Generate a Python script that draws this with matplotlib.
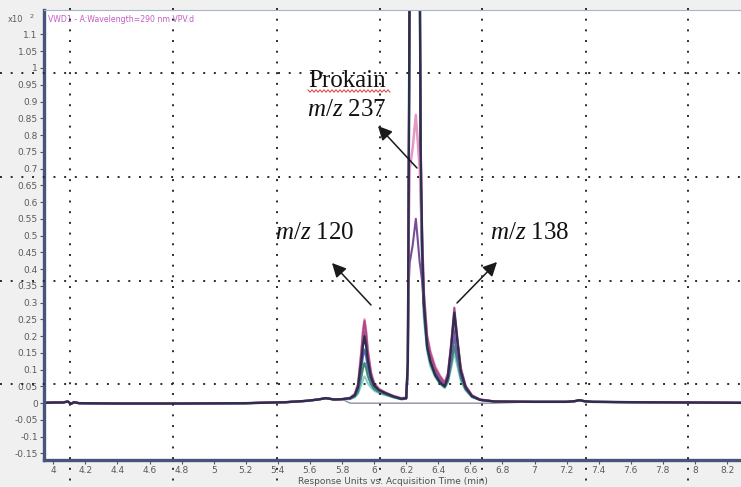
import numpy as np
import matplotlib
matplotlib.use('Agg')
import matplotlib.pyplot as plt
import matplotlib.patches as mpatches
from matplotlib.lines import Line2D
from matplotlib.ticker import FixedLocator, FuncFormatter

# ---------------- data ----------------
TIME = [3.94, 4.00, 4.06, 4.09, 4.11, 4.13, 4.16, 4.40, 4.80, 5.20, 5.45, 5.58, 5.65, 5.70, 5.75, 5.80,
        5.85, 5.88, 5.90, 5.92, 5.93, 5.94, 5.95, 5.96, 5.98, 6.00, 6.03, 6.07, 6.12, 6.17, 6.20,
        6.21, 6.215, 6.222, 6.24, 6.26, 6.275, 6.284, 6.29, 6.30, 6.31, 6.33, 6.35, 6.38, 6.41,
        6.44, 6.46, 6.48, 6.50, 6.52, 6.54, 6.57, 6.61, 6.66, 6.75,
        7.00, 7.20, 7.25, 7.28, 7.31, 7.36, 7.60, 8.00, 8.30]

BASE_A = [0.001, 0.002, 0.002, 0.005, -0.002, 0.003, 0.000, -0.001, -0.001, 0.000, 0.003, 0.007, 0.011, 0.015, 0.011, 0.012]
BASE_E = [0.004, 0.004, 0.006, 0.009, 0.006, 0.004, 0.003, 0.002, 0.001]

NAVY_B = [0.015, 0.024, 0.050, 0.125, 0.170, 0.200, 0.172, 0.130, 0.078, 0.053, 0.039, 0.030, 0.020, 0.013, 0.015]
NAVY_C = [0.12, 0.60, 1.40, 2.50, 3.00, 2.50, 1.40, 0.75, 0.45, 0.30, 0.17, 0.125, 0.085, 0.062]
NAVY_D = [0.050, 0.078, 0.165, 0.270, 0.180, 0.095, 0.047, 0.021, 0.010, 0.005]

MAGENTA_B = [0.015, 0.027, 0.056, 0.150, 0.208, 0.245, 0.210, 0.158, 0.090, 0.058, 0.041, 0.031, 0.021, 0.014, 0.016]
MAGENTA_C = [0.12, 0.60, 1.40, 2.40, 2.90, 2.40, 1.40, 0.80, 0.50, 0.33, 0.20, 0.150, 0.105, 0.080]
MAGENTA_D = [0.060, 0.088, 0.178, 0.285, 0.190, 0.105, 0.052, 0.023, 0.011, 0.005]

PINK_B = [0.016, 0.028, 0.058, 0.153, 0.212, 0.250, 0.214, 0.161, 0.092, 0.060, 0.043, 0.032, 0.022, 0.015, 0.017]
PINK_C = [0.12, 0.50, 0.70, 0.76, 0.86, 0.76, 0.70, 0.62, 0.48, 0.33, 0.20, 0.155, 0.110, 0.082]
PINK_D = [0.062, 0.088, 0.165, 0.260, 0.178, 0.104, 0.052, 0.023, 0.011, 0.005]

PURPLE_B = [0.015, 0.026, 0.052, 0.135, 0.186, 0.220, 0.188, 0.142, 0.082, 0.055, 0.040, 0.030, 0.020, 0.013, 0.015]
PURPLE_C = [0.11, 0.35, 0.42, 0.47, 0.55, 0.47, 0.42, 0.40, 0.36, 0.29, 0.19, 0.145, 0.100, 0.075]
PURPLE_D = [0.058, 0.082, 0.150, 0.230, 0.160, 0.094, 0.048, 0.021, 0.010, 0.005]

BLUE_B = [0.014, 0.023, 0.043, 0.102, 0.137, 0.160, 0.139, 0.106, 0.068, 0.049, 0.038, 0.029, 0.020, 0.013, 0.015]
BLUE_C = [0.12, 0.60, 1.35, 2.20, 2.60, 2.20, 1.35, 0.70, 0.42, 0.29, 0.18, 0.130, 0.090, 0.068]
BLUE_D = [0.052, 0.072, 0.130, 0.200, 0.140, 0.083, 0.044, 0.020, 0.010, 0.005]

YELLOW_B = [0.013, 0.020, 0.034, 0.080, 0.102, 0.118, 0.104, 0.083, 0.058, 0.043, 0.034, 0.027, 0.019, 0.012, 0.014]
YELLOW_C = [0.10, 0.45, 1.25, 2.30, 2.80, 2.30, 1.25, 0.66, 0.42, 0.30, 0.185, 0.135, 0.095, 0.070]
YELLOW_D = [0.050, 0.068, 0.118, 0.180, 0.126, 0.076, 0.042, 0.020, 0.010, 0.005]

TEAL_B = [0.013, 0.020, 0.034, 0.077, 0.103, 0.120, 0.105, 0.082, 0.057, 0.042, 0.033, 0.026, 0.018, 0.012, 0.014]
TEAL_C = [0.10, 0.55, 1.30, 2.00, 2.30, 2.00, 1.30, 0.65, 0.40, 0.27, 0.165, 0.120, 0.082, 0.060]
TEAL_D = [0.048, 0.066, 0.115, 0.170, 0.124, 0.074, 0.041, 0.019, 0.010, 0.005]

CYAN_B = [0.012, 0.018, 0.028, 0.055, 0.069, 0.080, 0.072, 0.060, 0.047, 0.037, 0.030, 0.024, 0.017, 0.011, 0.013]
CYAN_C = [0.09, 0.50, 1.25, 1.80, 2.00, 1.80, 1.25, 0.60, 0.38, 0.25, 0.155, 0.110, 0.078, 0.057]
CYAN_D = [0.045, 0.061, 0.104, 0.150, 0.108, 0.067, 0.038, 0.018, 0.009, 0.004]

BLANK_MID = [0.0] * 39

X_TICKS = [4, 4.2, 4.4, 4.6, 4.8, 5, 5.2, 5.4, 5.6, 5.8, 6, 6.2, 6.4, 6.6, 6.8, 7, 7.2, 7.4, 7.6, 7.8, 8, 8.2]
Y_TICKS = [-0.15, -0.1, -0.05, 0, 0.05, 0.1, 0.15, 0.2, 0.25, 0.3, 0.35, 0.4, 0.45, 0.5, 0.55, 0.6,
           0.65, 0.7, 0.75, 0.8, 0.85, 0.9, 0.95, 1, 1.05, 1.1]

TITLE = 'VWD1 - A:Wavelength=290 nm VPV.d'
XLABEL = 'Response Units vs. Acquisition Time (min)'

traces = [
    ('#8e8e9e', 1.0, BASE_A + BLANK_MID + BASE_E),
    ('#e8dc98', 1.5, BASE_A + YELLOW_B + YELLOW_C + YELLOW_D + BASE_E),
    ('#8ccfd0', 1.5, BASE_A + CYAN_B + CYAN_C + CYAN_D + BASE_E),
    ('#3f8f6f', 1.5, BASE_A + TEAL_B + TEAL_C + TEAL_D + BASE_E),
    ('#5b6bb5', 1.5, BASE_A + BLUE_B + BLUE_C + BLUE_D + BASE_E),
    ('#7b4b9b', 1.5, BASE_A + PURPLE_B + PURPLE_C + PURPLE_D + BASE_E),
    ('#e896c2', 1.8, BASE_A + PINK_B + PINK_C + PINK_D + BASE_E),
    ('#b04a86', 1.5, BASE_A + MAGENTA_B + MAGENTA_C + MAGENTA_D + BASE_E),
    ('#2c2f4f', 1.7, BASE_A + NAVY_B + NAVY_C + NAVY_D + BASE_E),
]

# ---------------- figure ----------------
plt.rcParams['mathtext.fontset'] = 'custom'
plt.rcParams['mathtext.rm'] = 'Liberation Serif'
plt.rcParams['mathtext.it'] = 'Liberation Serif:italic'

W, H = 741, 487
fig = plt.figure(figsize=(W / 100, H / 100), dpi=100, facecolor='#f0f0f0')


def fx(px):
    return px / W


def fy(py):
    return 1 - py / H


ax = fig.add_axes([fx(44), fy(459.5), fx(741) - fx(44), fy(10) - fy(459.5)])
ax.set_facecolor('white')

for color, lw, vals in traces:
    ax.plot(TIME, vals, color=color, lw=lw, solid_joinstyle='round')

ax.set_xlim(3.942, 8.287)
ax.set_ylim(-0.168, 1.173)

ax.xaxis.set_major_locator(FixedLocator(X_TICKS))
ax.yaxis.set_major_locator(FixedLocator(Y_TICKS))


def fmt(v, pos):
    v = round(v, 2)
    if abs(v) < 1e-9:
        return '0'
    return f'{v:g}'


ax.xaxis.set_major_formatter(FuncFormatter(fmt))
ax.yaxis.set_major_formatter(FuncFormatter(fmt))

axis_col = '#47557a'
for side in ['left', 'bottom']:
    ax.spines[side].set_color(axis_col)
    ax.spines[side].set_linewidth(2.4)
ax.spines['top'].set_color('#a8b4c8')
ax.spines['top'].set_linewidth(0.8)
ax.spines['right'].set_visible(False)

ax.tick_params(direction='out', length=3, width=0.8, color=axis_col,
               labelsize=6.5, labelcolor='#5a5a5a', pad=1.5)
ax.set_xlabel(XLABEL, fontsize=6.5, color='#505050', labelpad=1.5)

# title and multiplier
fig.text(fx(48), fy(19), TITLE, fontsize=5.6, color='#c45cc4', va='center', ha='left')
fig.text(fx(8), fy(19), 'x10', fontsize=6, color='#5a5a5a', va='center', ha='left')
fig.text(fx(30), fy(16), '2', fontsize=4.5, color='#5a5a5a', va='center', ha='left')

# annotations
serif = 'Liberation Serif'
fig.text(fx(308), fy(87), 'Prokain', fontsize=18, family=serif, color='#111111', va='baseline', ha='left')
fig.text(fx(307), fy(116), r'$\mathit{m/z}$ 237', fontsize=18, family=serif, color='#111111', va='baseline', ha='left')
fig.text(fx(275), fy(239), r'$\mathit{m/z}$ 120', fontsize=18, family=serif, color='#111111', va='baseline', ha='left')
fig.text(fx(490), fy(239), r'$\mathit{m/z}$ 138', fontsize=18, family=serif, color='#111111', va='baseline', ha='left')

# red spell-check squiggle under "Prokain"
sq_x = np.arange(308, 390.1, 2.0)
sq_y = 91 + np.where(np.arange(len(sq_x)) % 2 == 0, -1.2, 1.2)
fig.add_artist(Line2D(fx(sq_x), fy(sq_y), color='#e03a3a', lw=0.7, transform=fig.transFigure))

arrows = [((417, 168), (378, 126)),
          ((371, 305), (332, 263)),
          ((457, 303), (497, 262))]
for (tx, ty), (hx, hy) in arrows:
    fig.add_artist(mpatches.FancyArrowPatch(
        (fx(tx), fy(ty)), (fx(hx), fy(hy)), transform=fig.transFigure,
        arrowstyle='-|>,head_length=0.7,head_width=0.35', mutation_scale=12,
        color='#1a1a1a', lw=1.1, shrinkA=0, shrinkB=0))

# dotted overlay grid (drawn over the screenshot)
for vx in [70, 173, 277, 380, 482, 586, 688]:
    fig.add_artist(Line2D([fx(vx), fx(vx)], [fy(8), fy(487)], transform=fig.transFigure,
                          color='#2a2a2a', lw=1.4, linestyle=(0, (1, 4.5)), zorder=10))
for hy in [73, 177, 280.5, 384]:
    fig.add_artist(Line2D([fx(0), fx(741)], [fy(hy), fy(hy)], transform=fig.transFigure,
                          color='#2a2a2a', lw=1.4, linestyle=(0, (1, 4.5)), zorder=10))

fig.savefig('out.png', dpi=100, facecolor=fig.get_facecolor())
